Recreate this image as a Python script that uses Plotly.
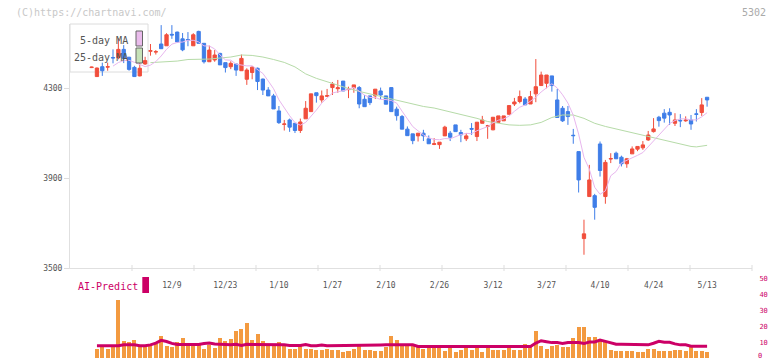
import plotly.graph_objects as go
import pandas as pd

# ---- data ----
opens = [4392, 4352, 4396, 4394, 4437, 4436, 4473, 4438, 4393, 4355,
         4408, 4465, 4461, 4497, 4489, 4540, 4550, 4520, 4517, 4489,
         4553, 4500, 4418, 4426, 4455, 4414, 4396, 4408, 4378, 4340,
         4370, 4389, 4341, 4292, 4266, 4199, 4139, 4159, 4144, 4112,
         4164, 4196, 4280, 4248, 4264, 4303, 4298, 4332, 4294, 4303,
         4303, 4251, 4266, 4266, 4288, 4266, 4303, 4207, 4174, 4118,
         4097, 4088, 4100, 4075, 4050, 4049, 4088, 4100, 4137, 4103,
         4075, 4121, 4085, 4144, 4131, 4115, 4148, 4155, 4184, 4230,
         4241, 4252, 4230, 4275, 4312, 4322, 4355, 4248, 4211, 4196,
         4091, 4018, 3631, 3818, 3822, 4052, 3818, 3985, 4011, 3993,
         3964, 4008, 4029, 4035, 4070, 4107, 4171, 4189, 4193, 4144,
         4157, 4155, 4159, 4186, 4192, 4260]
highs = [4396, 4392, 4414, 4414, 4473, 4522, 4492, 4440, 4400, 4429,
         4440, 4497, 4470, 4581, 4545, 4581, 4552, 4546, 4550, 4545,
         4556, 4500, 4490, 4470, 4458, 4414, 4420, 4408, 4450, 4389,
         4398, 4392, 4343, 4305, 4275, 4221, 4159, 4165, 4144, 4165,
         4243, 4275, 4280, 4290, 4297, 4328, 4337, 4332, 4307, 4315,
         4310, 4270, 4266, 4296, 4303, 4266, 4303, 4218, 4181, 4130,
         4097, 4100, 4115, 4090, 4078, 4060, 4133, 4110, 4137, 4115,
         4100, 4145, 4149, 4177, 4137, 4171, 4177, 4177, 4223, 4257,
         4290, 4261, 4288, 4430, 4374, 4359, 4355, 4297, 4221, 4221,
         4119, 4018, 3715, 3959, 3830, 4063, 3981, 4011, 4018, 4000,
         3990, 4041, 4041, 4065, 4110, 4167, 4177, 4207, 4211, 4189,
         4185, 4175, 4181, 4207, 4256, 4260]
lows = [4390, 4350, 4355, 4378, 4411, 4429, 4412, 4378, 4350, 4353,
        4404, 4445, 4450, 4476, 4489, 4520, 4503, 4465, 4487, 4489,
        4500, 4410, 4418, 4418, 4404, 4370, 4385, 4355, 4378, 4315,
        4340, 4292, 4270, 4266, 4208, 4141, 4112, 4106, 4101, 4101,
        4164, 4196, 4236, 4236, 4262, 4270, 4280, 4288, 4256, 4280,
        4211, 4218, 4225, 4252, 4251, 4229, 4196, 4156, 4118, 4089,
        4051, 4063, 4065, 4053, 4047, 4030, 4088, 4065, 4107, 4060,
        4065, 4092, 4065, 4144, 4075, 4113, 4148, 4155, 4184, 4221,
        4233, 4226, 4230, 4238, 4312, 4300, 4285, 4170, 4150, 4137,
        4053, 3836, 3559, 3818, 3715, 3907, 3786, 3967, 3986, 3952,
        3946, 4008, 4020, 4026, 4066, 4103, 4129, 4147, 4137, 4132,
        4127, 4151, 4115, 4152, 4177, 4218]
closes = [4394, 4390, 4378, 4396, 4435, 4473, 4433, 4384, 4352, 4389,
          4423, 4467, 4463, 4476, 4538, 4537, 4506, 4471, 4515, 4538,
          4500, 4418, 4470, 4448, 4404, 4392, 4411, 4381, 4433, 4381,
          4394, 4330, 4292, 4266, 4208, 4147, 4141, 4127, 4112, 4150,
          4211, 4275, 4267, 4266, 4267, 4319, 4302, 4288, 4296, 4315,
          4230, 4218, 4236, 4296, 4270, 4229, 4196, 4178, 4118, 4089,
          4067, 4100, 4088, 4053, 4053, 4060, 4127, 4082, 4107, 4093,
          4088, 4118, 4149, 4159, 4133, 4171, 4177, 4177, 4223, 4239,
          4263, 4226, 4263, 4307, 4359, 4359, 4312, 4170, 4155, 4174,
          4089, 3892, 3652, 3892, 3770, 3934, 3970, 3987, 3986, 3964,
          3986, 4030, 4041, 4048, 4092, 4119, 4156, 4167, 4181, 4159,
          4155, 4158, 4141, 4184, 4226, 4248]
volume = [None, 5.7, 6.9, 5.7, 6.9, 36.3, 10.5, 9.9, 11.5, 8.0,
          7.3, 8.4, 8.8, 13.6, 7.8, 6.7, 9.9, 12.2, 8.8, 8.4,
          8.8, 5.9, 8.4, 6.5, 12.2, 10.5, 12.0, 16.8, 18.4, 21.6,
          11.1, 15.3, 10.5, 8.4, 8.8, 9.9, 8.4, 5.7, 5.9, 7.8,
          5.9, 5.9, 4.8, 4.8, 5.9, 4.8, 5.2, 3.6, 4.2, 5.7,
          7.8, 4.8, 5.2, 4.6, 4.2, 6.9, 14.0, 11.1, 8.4, 8.4,
          8.4, 6.7, 5.7, 7.3, 6.9, 7.3, 4.2, 7.3, 3.6, 5.2,
          6.9, 5.2, 6.9, 3.6, 6.7, 4.8, 4.8, 5.2, 6.9, 5.2,
          4.8, 8.8, 8.4, 16.8, 7.3, 5.9, 7.3, 8.0, 6.7, 6.7,
          12.2, 19.5, 19.5, 13.2, 13.2, 11.1, 10.9, 4.8, 4.2, 4.2,
          4.2, 4.2, 3.8, 3.8, 5.7, 5.9, 4.2, 4.6, 4.6, 5.2,
          4.8, 4.2, 6.9, 4.6, 4.2, 3.6]
ai_predict = [None, 7.8, 7.8, 7.8, 7.8, 7.8, 8.4, 8.4, 8.4, 7.8,
              7.8, 8.4, 9.5, 11.2, 10.5, 9.3, 8.6, 8.6, 8.6, 8.6,
              8.6, 9.2, 9.6, 9.0, 8.6, 8.6, 8.4, 8.8, 8.0, 8.8,
              8.6, 8.6, 8.6, 8.6, 8.6, 8.6, 8.4, 8.0, 8.0, 8.0,
              8.6, 7.9, 7.9, 8.3, 7.9, 7.9, 8.3, 7.9, 8.3, 7.9,
              7.9, 8.3, 7.9, 7.9, 8.3, 8.4, 8.4, 8.4, 8.4, 8.4,
              8.4, 7.4, 7.4, 7.4, 7.4, 7.4, 7.4, 7.4, 7.4, 7.4,
              7.4, 7.4, 7.4, 7.4, 7.4, 7.4, 7.4, 7.4, 7.4, 7.4,
              7.4, 7.4, 7.4, 9.5, 11.0, 10.4, 9.8, 9.8, 9.2, 9.8,
              9.8, 9.8, 9.2, 10.2, 10.2, 11.4, 10.6, 9.6, 8.8, 8.8,
              8.8, 8.8, 8.8, 8.8, 8.4, 9.4, 10.6, 10.0, 10.0, 9.0,
              8.4, 8.4, 7.6, 7.6, 7.6, 7.6]
ma25_idx = [11, 13, 16, 18, 22, 26, 28, 30, 32, 34, 36, 38, 40, 42, 44, 46,
            48, 50, 52, 54, 56, 58, 60, 62, 64, 66, 68, 70, 72, 74, 76, 78,
            80, 82, 84, 86, 88, 90, 92, 94, 96, 98, 100, 102, 104, 106, 108,
            110, 112, 113, 114, 115]
ma25_val = [4414, 4417, 4421, 4428, 4430, 4439, 4448, 4446, 4439, 4428, 4415,
            4395, 4364, 4344, 4328, 4315, 4299, 4286, 4275, 4264, 4255, 4241,
            4230, 4219, 4212, 4201, 4190, 4179, 4166, 4152, 4144, 4137, 4135,
            4137, 4148, 4170, 4181, 4181, 4166, 4144, 4130, 4119, 4108, 4097,
            4086, 4077, 4066, 4055, 4041, 4039, 4041, 4046]
tick_idx = [15, 25, 35, 45, 55, 65, 75, 85, 95, 105, 115]
tick_labels = ["12/9", "12/23", "1/10", "1/27", "2/10", "2/26",
               "3/12", "3/27", "4/10", "4/24", "5/13"]
price_ticks = [3500, 3900, 4300]
vol_ticks = [10, 20, 30, 40, 50]
vol_zero_label = "0"

idx = list(range(len(opens)))
ma5 = pd.Series(closes).rolling(5).mean()

W, H = 772, 361
RED = "#f14e3c"
BLUE = "#3f7ee8"
MONO = "DejaVu Sans Mono"


def pxx(p):
    return (p - 70) / 682.0


def pxy(p):
    return (H - p) / float(H)


fig = go.Figure()
fig.add_trace(go.Scatter(x=ma25_idx, y=ma25_val, mode="lines",
                         line=dict(color="#b6dba8", width=1),
                         hoverinfo="skip", xaxis="x", yaxis="y"))
fig.add_trace(go.Scatter(x=idx, y=ma5, mode="lines",
                         line=dict(color="#e8b6ee", width=1),
                         hoverinfo="skip", xaxis="x", yaxis="y"))
fig.add_trace(go.Candlestick(
    x=idx, open=opens, high=highs, low=lows, close=closes,
    increasing=dict(line=dict(color=RED, width=1), fillcolor=RED),
    decreasing=dict(line=dict(color=BLUE, width=1), fillcolor=BLUE),
    whiskerwidth=0, hoverinfo="skip", xaxis="x", yaxis="y"))
fig.add_trace(go.Bar(x=idx, y=volume, width=0.75,
                     marker=dict(color="#f39a40", line=dict(width=0)),
                     hoverinfo="skip", xaxis="x2", yaxis="y2"))
fig.add_trace(go.Scatter(x=idx, y=ai_predict, mode="lines",
                         line=dict(color="#cc0066", width=3),
                         hoverinfo="skip", xaxis="x2", yaxis="y2"))

xr = [(70 - 91.6) / 5.352, (752 - 91.6) / 5.352]

shapes = []
# legend box
shapes.append(dict(type="rect", xref="paper", yref="paper",
                   x0=pxx(70), x1=pxx(148), y0=pxy(72), y1=pxy(24),
                   fillcolor="white", line=dict(color="#dcdcdc", width=1),
                   layer="below"))
shapes.append(dict(type="rect", xref="paper", yref="paper",
                   x0=pxx(136), x1=pxx(142.5), y0=pxy(46), y1=pxy(31),
                   fillcolor="#eabcec", line=dict(color="#666666", width=1)))
shapes.append(dict(type="rect", xref="paper", yref="paper",
                   x0=pxx(136), x1=pxx(142.5), y0=pxy(63), y1=pxy(48),
                   fillcolor="#c6e2b8", line=dict(color="#666666", width=1)))
# AI-Predict marker
shapes.append(dict(type="rect", xref="paper", yref="paper",
                   x0=pxx(142.3), x1=pxx(149), y0=pxy(293), y1=pxy(277),
                   fillcolor="#cc0066", line=dict(width=0)))
# decorative bottom-axis ticks
for k in range(1, 12):
    p = 70 + 62 * k
    shapes.append(dict(type="line", xref="paper", yref="paper",
                       x0=pxx(p), x1=pxx(p), y0=pxy(265), y1=pxy(271),
                       line=dict(color="#dddddd", width=1)))

annotations = [
    dict(text="(C)https://chartnavi.com/", x=pxx(14), y=pxy(12),
         xref="paper", yref="paper", xanchor="left", yanchor="middle",
         showarrow=False, font=dict(family=MONO, size=10, color="#c8c8c8")),
    dict(text="5302", x=pxx(768), y=pxy(12), xref="paper", yref="paper",
         xanchor="right", yanchor="middle", showarrow=False,
         font=dict(family=MONO, size=10, color="#aaaaaa")),
    dict(text="5-day MA", x=pxx(130), y=pxy(40), xref="paper", yref="paper",
         xanchor="right", yanchor="middle", showarrow=False,
         font=dict(family=MONO, size=10, color="#555555")),
    dict(text="25-day MA", x=pxx(130), y=pxy(57), xref="paper", yref="paper",
         xanchor="right", yanchor="middle", showarrow=False,
         font=dict(family=MONO, size=10, color="#555555")),
    dict(text="AI-Predict", x=pxx(76), y=pxy(286), xref="paper", yref="paper",
         xanchor="left", yanchor="middle", showarrow=False,
         font=dict(family=MONO, size=10, color="#cc0066")),
    dict(text=vol_zero_label, x=pxx(757), y=pxy(361), xref="paper",
         yref="paper", xanchor="left", yanchor="bottom", showarrow=False,
         borderpad=0,
         font=dict(family=MONO, size=7, color="#cc0066")),
]

fig.update_layout(
    width=W, height=H,
    margin=dict(l=70, r=20, t=0, b=0, autoexpand=False),
    paper_bgcolor="white", plot_bgcolor="white",
    showlegend=False, boxgap=0.12, bargap=0,
    shapes=shapes, annotations=annotations,
    xaxis=dict(domain=[0, 1], range=xr, anchor="y",
               tickmode="array", tickvals=tick_idx, ticktext=tick_labels,
               ticks="outside", ticklen=9, tickcolor="rgba(0,0,0,0)",
               tickfont=dict(family=MONO, size=8, color="#555555"),
               showline=True, linecolor="#e0e0e0", linewidth=1,
               showgrid=False, zeroline=False, rangeslider=dict(visible=False),
               fixedrange=True),
    yaxis=dict(domain=[pxy(268), pxy(24)], range=[3500, 4586], anchor="x",
               tickmode="array", tickvals=price_ticks,
               ticks="outside", ticklen=5, tickcolor="#dddddd",
               tickfont=dict(family=MONO, size=8, color="#555555"),
               showline=True, linecolor="#e0e0e0", linewidth=1,
               showgrid=False, zeroline=False, fixedrange=True),
    xaxis2=dict(domain=[0, 1], range=xr, anchor="y2", visible=False,
                fixedrange=True),
    yaxis2=dict(domain=[pxy(358.3), pxy(278.3)], range=[0, 50], anchor="x2",
                side="right", tickmode="array", tickvals=vol_ticks,
                ticks="outside", ticklen=5, tickcolor="rgba(0,0,0,0)",
                tickfont=dict(family=MONO, size=7, color="#cc0066"),
                showline=False, showgrid=False, zeroline=False,
                fixedrange=True),
)

fig.write_html("out.html", config={"displayModeBar": False},
               post_script="document.body.style.margin='0';"
                           "document.body.style.overflow='hidden';")
